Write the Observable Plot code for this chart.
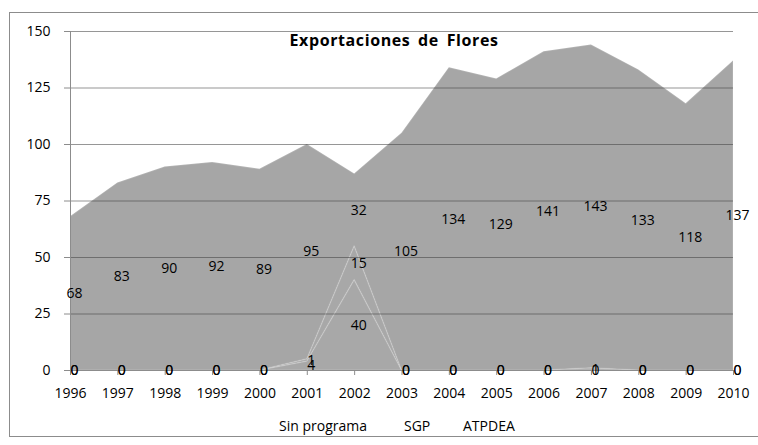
<!DOCTYPE html>
<html>
<head>
<meta charset="utf-8">
<script src="https://cdn.jsdelivr.net/npm/d3@7"></script>
<script src="https://cdn.jsdelivr.net/npm/@observablehq/plot@0.6"></script>
<style>
  html, body { margin: 0; padding: 0; background: #fff; }
  #wrap { position: relative; width: 758px; height: 445px; overflow: hidden; font-family: "Open Sans", sans-serif; }
  #frame { position: absolute; left: 9px; top: 12px; width: 800px; height: 425px; border: 1px solid #8c8c8c; box-sizing: border-box; }
  #title { position: absolute; top: 29px; left: 0; width: 788px; text-align: center; font-weight: bold; font-size: 16px; letter-spacing: 0.6px; word-spacing: 3px; color: #000; }
  #legend { position: absolute; top: 416px; left: 0; width: 758px; height: 22px; font-size: 14px; color: #000; white-space: nowrap; }
  #legend span { position: absolute; top: 0; }
  #chart { position: absolute; left: 0; top: 0; }
</style>
</head>
<body>
<div id="wrap">
  <div id="frame"></div>
  <div id="chart"></div>
  <div id="title">Exportaciones de Flores</div>
  <div id="legend"></div>
</div>
<script>
const years = [1996, 1997, 1998, 1999, 2000, 2001, 2002, 2003, 2004, 2005, 2006, 2007, 2008, 2009, 2010];
const seriesNames = ["Sin programa", "SGP", "ATPDEA"];
const sinPrograma = [0, 0, 0, 0, 0, 4, 40, 0, 0, 0, 0, 0, 0, 0, 0];
const sgp         = [0, 0, 0, 0, 0, 1, 15, 0, 0, 0, 0, 1, 0, 0, 0];
const atpdea      = [68, 83, 90, 92, 89, 95, 32, 105, 134, 129, 141, 143, 133, 118, 137];
const yTicks = [0, 25, 50, 75, 100, 125, 150];

const seriesValues = [sinPrograma, sgp, atpdea];
const rows = [];
seriesNames.forEach((s, si) => {
  years.forEach((yr, i) => rows.push({ year: yr, series: s, value: seriesValues[si][i] }));
});

const chart = Plot.plot({
  width: 758,
  height: 445,
  marginLeft: 70,
  marginRight: 25,
  marginTop: 31,
  marginBottom: 75,
  style: { fontFamily: "Open Sans, sans-serif", fontSize: "14px", color: "#000", background: "transparent" },
  x: { domain: [1996, 2010] },
  y: { domain: [0, 150] },
  color: { domain: seriesNames, range: ["#a8a8a8", "#a8a8a8", "#a6a6a6"] },
  marks: [
    Plot.areaY(rows, Plot.stackY({ x: "year", y: "value", z: "series", fill: "series", order: seriesNames,
      stroke: "#ffffff", strokeOpacity: 0.14, strokeWidth: 1.5 })),
    Plot.gridY(yTicks, { stroke: "#404040", strokeOpacity: 0.55 }),
    Plot.ruleX([1996], { stroke: "#8c8c8c" }),
    Plot.ruleY([0], { stroke: "#8c8c8c" }),
    Plot.axisY({ ticks: yTicks, tickSize: 6, tickPadding: 14, label: null, stroke: "#8c8c8c", fontSize: 14 }),
    Plot.axisX({ ticks: years, tickFormat: d => String(d), tickSize: 5, tickPadding: 13, label: null, stroke: "#8c8c8c", fontSize: 14 }),
    Plot.text(rows, Plot.stackY({ x: "year", y: "value", z: "series", order: seriesNames,
      text: d => String(d.value), dx: 4, fontSize: 14, fill: "#000" }))
  ]
});
document.getElementById("chart").appendChild(chart);

const legendLefts = [279, 404, 463];
const legend = document.getElementById("legend");
seriesNames.forEach((s, i) => {
  const sp = document.createElement("span");
  sp.textContent = s;
  sp.style.left = legendLefts[i] + "px";
  legend.appendChild(sp);
});
</script>
</body>
</html>
